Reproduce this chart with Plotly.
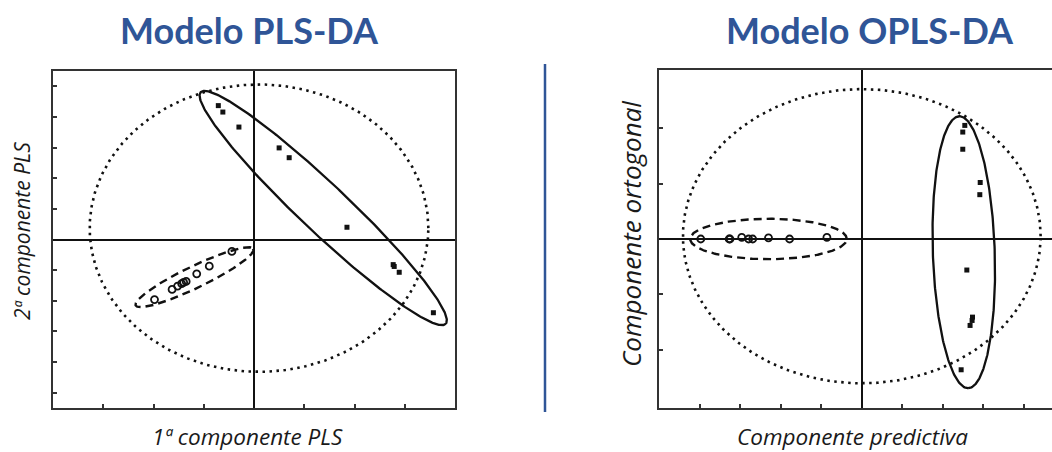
import numpy as np
import plotly.graph_objects as go

# ---- PLS-DA scores (t1, t2) ----
pls_o_t1 = [-1.98, -1.63, -1.52, -1.44, -1.40, -1.35, -1.14, -0.89, -0.44]
pls_o_t2 = [-1.96, -1.63, -1.52, -1.44, -1.40, -1.37, -1.12, -0.87, -0.39]
pls_x_t1 = [-0.71, -0.62, -0.30, 0.50, 0.70, 1.85, 2.77, 2.79, 2.89, 3.57]
pls_x_t2 = [4.37, 4.16, 3.67, 2.99, 2.67, 0.40, -0.82, -0.88, -1.07, -2.39]

# ---- OPLS-DA scores (predictive, orthogonal) ----
opls_o_tp = [-3.97, -3.27, -3.25, -2.96, -2.79, -2.69, -2.30, -1.78, -0.86]
opls_o_to = [0.0, 0.0, 0.0, 0.03, 0.0, 0.0, 0.02, 0.0, 0.03]
opls_x_tp = [2.54, 2.49, 2.49, 2.92, 2.91, 2.59, 2.73, 2.72, 2.67, 2.45]
opls_x_to = [2.05, 1.93, 1.62, 1.02, 0.80, -0.56, -1.41, -1.47, -1.56, -2.36]

# ---- confidence ellipses: centre (cx, cy) and semi-axis vectors u, v ----
pls_t2_centre = [0.10, 0.37]
pls_t2_axes = [3.37, 0.0, 0.0, 4.69]
pls_x_centre = [1.377, 1.028]
pls_x_axes = [2.438, -3.78, -0.33, -0.57]
pls_o_centre = [-1.184, -1.230]
pls_o_axes = [1.170, 0.924, 0.095, -0.323]

opls_t2_centre = [0.0, 0.05]
opls_t2_axes = [4.41, 0.0, 0.0, 2.655]
opls_o_centre = [-2.30, 0.0]
opls_o_axes = [1.93, 0.0, 0.0, 0.365]
opls_x_centre = [2.515, -0.239]
opls_x_axes = [0.111, -2.454, 0.763, 0.018]

# axis ranges and tick positions
pls_xrange = [-4, 4]
pls_yrange = [-5.5, 5.5]
pls_xticks = [-3, -2, -1, 1, 2, 3]
pls_yticks = [-5, -4, -3, -2, -1, 1, 2, 3, 4, 5]
opls_xrange = [-5, 4.69]
opls_yrange = [-3.05, 3.05]
opls_xticks = [-4, -3, -2, -1, 1, 2, 3, 4]
opls_yticks = [-2, -1, 1, 2]

W, H = 1052, 452
BLUE = "#2F5597"
INK = "#111111"


def ellipse(centre, axes, n=361):
    t = np.linspace(0, 2 * np.pi, n)
    ux, uy, vx, vy = axes
    x = centre[0] + ux * np.cos(t) + vx * np.sin(t)
    y = centre[1] + uy * np.cos(t) + vy * np.sin(t)
    return x, y


def px(x):
    return x / W


def py(y):
    return 1 - y / H


fig = go.Figure()


def add_panel(xa, ya, t2, cls_o, cls_x, o_pts, x_pts):
    styles = ((t2, "2.5px,4.5px", 2.6), (cls_o, "8px,5px", 2.4), (cls_x, "solid", 2.3))
    for (c, a), dash, w in styles:
        ex, ey = ellipse(c, a)
        fig.add_trace(go.Scatter(x=ex, y=ey, mode="lines", xaxis=xa, yaxis=ya,
                                 line=dict(color=INK, width=w, dash=dash),
                                 hoverinfo="skip", showlegend=False))
    fig.add_trace(go.Scatter(x=o_pts[0], y=o_pts[1], mode="markers", xaxis=xa, yaxis=ya,
                             marker=dict(symbol="circle-open", size=7, color=INK,
                                         line=dict(width=1.8, color=INK)),
                             showlegend=False))
    fig.add_trace(go.Scatter(x=x_pts[0], y=x_pts[1], mode="markers", xaxis=xa, yaxis=ya,
                             marker=dict(symbol="square", size=5, color=INK),
                             showlegend=False))


add_panel("x", "y", (pls_t2_centre, pls_t2_axes), (pls_o_centre, pls_o_axes),
          (pls_x_centre, pls_x_axes), (pls_o_t1, pls_o_t2), (pls_x_t1, pls_x_t2))
add_panel("x2", "y2", (opls_t2_centre, opls_t2_axes), (opls_o_centre, opls_o_axes),
          (opls_x_centre, opls_x_axes), (opls_o_tp, opls_o_to), (opls_x_tp, opls_x_to))

axis_common = dict(showgrid=False, zeroline=True, zerolinecolor=INK, zerolinewidth=2,
                   showline=True, linecolor="#333333", linewidth=2,
                   ticks="inside", ticklen=4, tickwidth=1.5, tickcolor="#333333",
                   showticklabels=False, fixedrange=True)

fig.update_layout(
    width=W, height=H,
    margin=dict(l=0, r=0, t=0, b=0),
    paper_bgcolor="white", plot_bgcolor="white",
    xaxis=dict(axis_common, domain=[px(53), px(455)], range=pls_xrange,
               tickvals=pls_xticks, mirror=True, anchor="y"),
    yaxis=dict(axis_common, domain=[py(408), py(71)], range=pls_yrange,
               tickvals=pls_yticks, mirror=True, anchor="x"),
    xaxis2=dict(axis_common, domain=[px(659), 1.0], range=opls_xrange,
                tickvals=opls_xticks, mirror=True, anchor="y2"),
    yaxis2=dict(axis_common, domain=[py(408), py(70)], range=opls_yrange,
                tickvals=opls_yticks, mirror=False, anchor="x2"),
    shapes=[dict(type="line", xref="paper", yref="paper",
                 x0=px(545), x1=px(545), y0=py(412), y1=py(64),
                 line=dict(color=BLUE, width=2.5))],
)

title_font = dict(family="Lato", size=36, color=BLUE)


def label_font(size):
    return dict(family="Open Sans", size=size, color="#1a1a1a", style="italic")


annotations = [
    dict(text="<b>Modelo PLS-DA</b>", x=px(249), y=py(30), font=title_font),
    dict(text="<b>Modelo OPLS-DA</b>", x=px(870), y=py(30), font=title_font),
    dict(text="1ª componente PLS", x=px(247), y=py(436), font=label_font(22.5)),
    dict(text="Componente predictiva", x=px(852), y=py(436), font=label_font(22.5)),
    dict(text="2ª componente PLS", x=px(22), y=py(231), font=label_font(21), textangle=-90),
    dict(text="Componente ortogonal", x=px(631), y=py(234), font=label_font(26), textangle=-90),
]
for a in annotations:
    fig.add_annotation(xref="paper", yref="paper", showarrow=False,
                       xanchor="center", yanchor="middle", **a)

fig.write_html("out.html")
